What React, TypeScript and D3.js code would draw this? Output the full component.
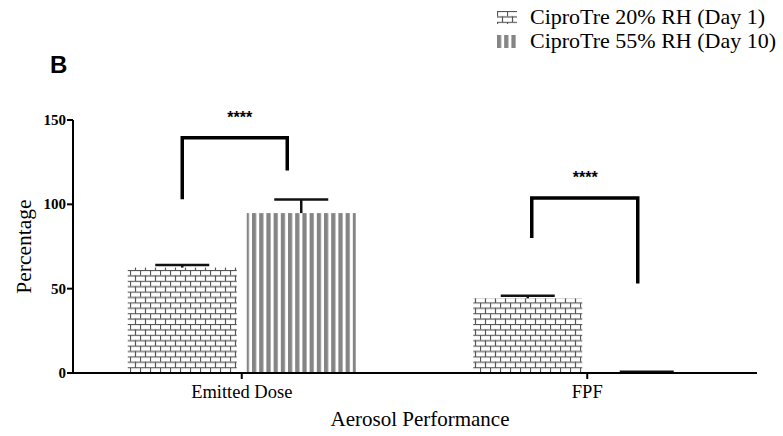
import React from "react";
import * as d3 from "d3";

const categories = ["Emitted Dose", "FPF"];
const seriesNames = ["CiproTre 20% RH (Day 1)", "CiproTre 55% RH (Day 10)"];
const day1Values = [62.5, 44.3];
const day1Errors = [1.5, 1.5];
const day10Values = [94.8, 0.4];
const day10Errors = [8, 0.4];
const yTicks = [0, 50, 100, 150];
// significance brackets: group, left leg end, right leg end, top (all in %)
const brackets = [
  { cat: "Emitted Dose", left: 103, right: 120, top: 139.5, label: "****" },
  { cat: "FPF", left: 80, right: 53, top: 103.7, label: "****" },
];
// horizontal nudges of the bracket legs relative to the bar centres (px)
const bracketInset = [
  { l: 0, r: -14 },
  { l: 4, r: -9 },
];

const W = 783;
const H = 436;
const serif = "'Liberation Serif', 'Times New Roman', serif";
const sans = "'Liberation Sans', Arial, sans-serif";

export default function App() {
  const x = d3.scaleBand<string>().domain(categories).range([69, 760]).padding(0);
  const inner = d3.scaleBand<number>().domain([0, 1]).range([-114, 114]).paddingInner(0.084);
  const y = d3.scaleLinear().domain([0, 150]).range([373, 120]);

  const series = [
    { values: day1Values, errors: day1Errors, fill: "url(#brick)" },
    { values: day10Values, errors: day10Errors, fill: "url(#stripe)" },
  ];

  const center = (c: string) => (x(c) as number) + x.bandwidth() / 2;
  const barX = (c: string, s: number) => center(c) + (inner(s) as number);
  const barMid = (c: string, s: number) => barX(c, s) + inner.bandwidth() / 2;

  return (
    <svg width={W} height={H} style={{ position: "absolute", left: 0, top: 0, background: "#fff" }}>
      <defs>
        <pattern id="brick" patternUnits="userSpaceOnUse" width={10} height={10.8}>
          <rect width={10} height={10.8} fill="#fff" />
          <line x1={0} x2={10} y1={0.5} y2={0.5} stroke="#555" strokeWidth={1.2} />
          <line x1={0} x2={10} y1={5.9} y2={5.9} stroke="#555" strokeWidth={1.2} />
          <line x1={0.5} x2={0.5} y1={0} y2={5.4} stroke="#555" strokeWidth={1.2} />
          <line x1={5.5} x2={5.5} y1={5.4} y2={10.8} stroke="#555" strokeWidth={1.2} />
        </pattern>
        <pattern id="stripe" patternUnits="userSpaceOnUse" width={7.2} height={10}>
          <rect width={7.2} height={10} fill="#fff" />
          <rect x={0} width={4.2} height={10} fill="#858585" />
        </pattern>
      </defs>

      <text x={50} y={73} fontFamily={sans} fontWeight="bold" fontSize={24}>B</text>

      {/* legend */}
      {seriesNames.map((name, i) => (
        <g key={name} transform={`translate(497, ${11 + i * 24})`}>
          <rect width={20} height={13} fill={series[i].fill} />
          <text x={33} y={13} fontFamily={serif} fontSize={22}>{name}</text>
        </g>
      ))}

      {/* bars */}
      {series.map((s, si) =>
        categories.map((c, ci) => (
          <rect
            key={`${si}-${c}`}
            x={barX(c, si)}
            y={y(s.values[ci])}
            width={inner.bandwidth()}
            height={y(0) - y(s.values[ci])}
            fill={s.fill}
          />
        ))
      )}

      {/* error bars */}
      {series.map((s, si) =>
        categories.map((c, ci) => {
          const mx = barMid(c, si);
          const top = y(s.values[ci] + s.errors[ci]);
          return (
            <g key={`e${si}-${c}`} stroke="#111" strokeWidth={2.5}>
              <line x1={mx} x2={mx} y1={y(s.values[ci])} y2={top} />
              <line x1={mx - 27} x2={mx + 27} y1={top} y2={top} />
            </g>
          );
        })
      )}

      {/* significance brackets */}
      {brackets.map((b, i) => {
        const l = barMid(b.cat, 0) + bracketInset[i].l;
        const r = barMid(b.cat, 1) + bracketInset[i].r;
        return (
          <g key={b.cat}>
            <path
              d={`M${l},${y(b.left)}V${y(b.top)}H${r}V${y(b.right)}`}
              fill="none"
              stroke="#000"
              strokeWidth={3.5}
            />
            <text x={center(b.cat) - 2} y={y(b.top) - 15} textAnchor="middle" fontFamily={sans} fontWeight="bold" fontSize={16}>
              {b.label}
            </text>
          </g>
        );
      })}

      {/* y axis */}
      <line x1={73} x2={73} y1={y(150)} y2={y(0)} stroke="#000" strokeWidth={2} />
      {yTicks.map((t) => (
        <g key={t}>
          <line x1={67} x2={73} y1={y(t)} y2={y(t)} stroke="#000" strokeWidth={2} />
          <text x={66} y={y(t) + 5} textAnchor="end" fontFamily={serif} fontWeight="bold" fontSize={15}>{t}</text>
        </g>
      ))}
      <text transform={`translate(31, ${y(75)}) rotate(-90)`} textAnchor="middle" fontFamily={serif} fontSize={21.5}>Percentage</text>

      {/* x axis */}
      <line x1={72} x2={757} y1={y(0)} y2={y(0)} stroke="#000" strokeWidth={2} />
      {categories.map((c) => (
        <g key={c}>
          <line x1={center(c)} x2={center(c)} y1={y(0)} y2={y(0) + 6} stroke="#000" strokeWidth={2} />
          <text x={center(c)} y={y(0) + 25} textAnchor="middle" fontFamily={serif} fontSize={18.5}>{c}</text>
        </g>
      ))}
      <text x={420} y={426} textAnchor="middle" fontFamily={serif} fontSize={21}>Aerosol Performance</text>
    </svg>
  );
}
